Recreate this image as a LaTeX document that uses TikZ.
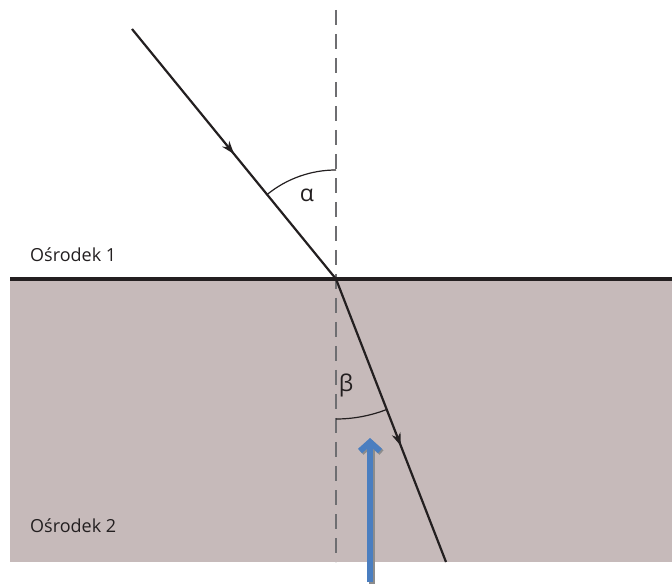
\documentclass[tikz,border=0pt]{standalone}
\usepackage{fontspec}
\setmainfont{Open Sans}
\usetikzlibrary{arrows.meta,decorations.markings,calc}
\definecolor{medium}{RGB}{198,186,186}
\definecolor{ink}{RGB}{35,31,32}
\definecolor{normalgray}{RGB}{110,110,113}
\definecolor{pointer}{RGB}{74,126,192}
\tikzset{
  ray/.style={draw=ink,line width=2.2pt},
  midarrow/.style={postaction={decorate},decoration={markings,
     mark=at position #1 with {\arrow{Stealth[length=13pt,width=9pt,inset=4pt]}}}},
  anglearc/.style={draw=ink,line width=1.2pt},
  lbl/.style={font=\fontsize{18}{22}\selectfont,text=ink,inner sep=0pt},
  greek/.style={font=\fontsize{23}{26}\selectfont,text=ink,inner sep=0pt},
}
\begin{document}
\begin{tikzpicture}[x=1pt,y=1pt]
\useasboundingbox (0,0) rectangle (672,584);
% medium 2
\fill[medium] (10,22) rectangle (672,305);
% coordinates
\coordinate (O) at (336,305);
\coordinate (S) at (132,555);
\coordinate (E) at (446,22);
\coordinate (Ntop) at (336,574);
\coordinate (Nbot) at (336,22);
\coordinate (Lft) at (10,305);
\coordinate (Rgt) at (672,305);
% normal
\draw[normalgray,line width=1.6pt,dash pattern=on 15pt off 9pt] (Ntop) -- (Nbot);
% boundary
\draw[ink,line width=3.2pt] (Lft) -- (Rgt);
% rays
\draw[ray,midarrow=0.5] (S) -- (O);
\draw[ray,midarrow=0.59] (O) -- (E);
% angles
\draw[anglearc] ($(O)+(90:109)$) arc[start angle=90,end angle=129.2,radius=109];
\draw[anglearc] ($(O)+(-90:140)$) arc[start angle=-90,end angle=-68.8,radius=140];
\node[greek] (alpha) at (307,389) {α};
\node[greek] (beta) at (346,199) {β};
% labels
\node[lbl,anchor=west] (m1) at (30,329) {Ośrodek 1};
\node[lbl,anchor=west] (m2) at (30,58) {Ośrodek 2};
% pointer arrow
\coordinate (Pb) at (370,2);
\coordinate (Pt) at (370,146);
\draw[black!45,line width=6pt,-{Straight Barb[length=9pt,width=20pt]}] ([shift={(1.5,-1.5)}]Pb) -- ([shift={(1.5,-1.5)}]Pt);
\draw[pointer,line width=6pt,-{Straight Barb[length=9pt,width=20pt]}] (Pb) -- (Pt);
\end{tikzpicture}
\end{document}
